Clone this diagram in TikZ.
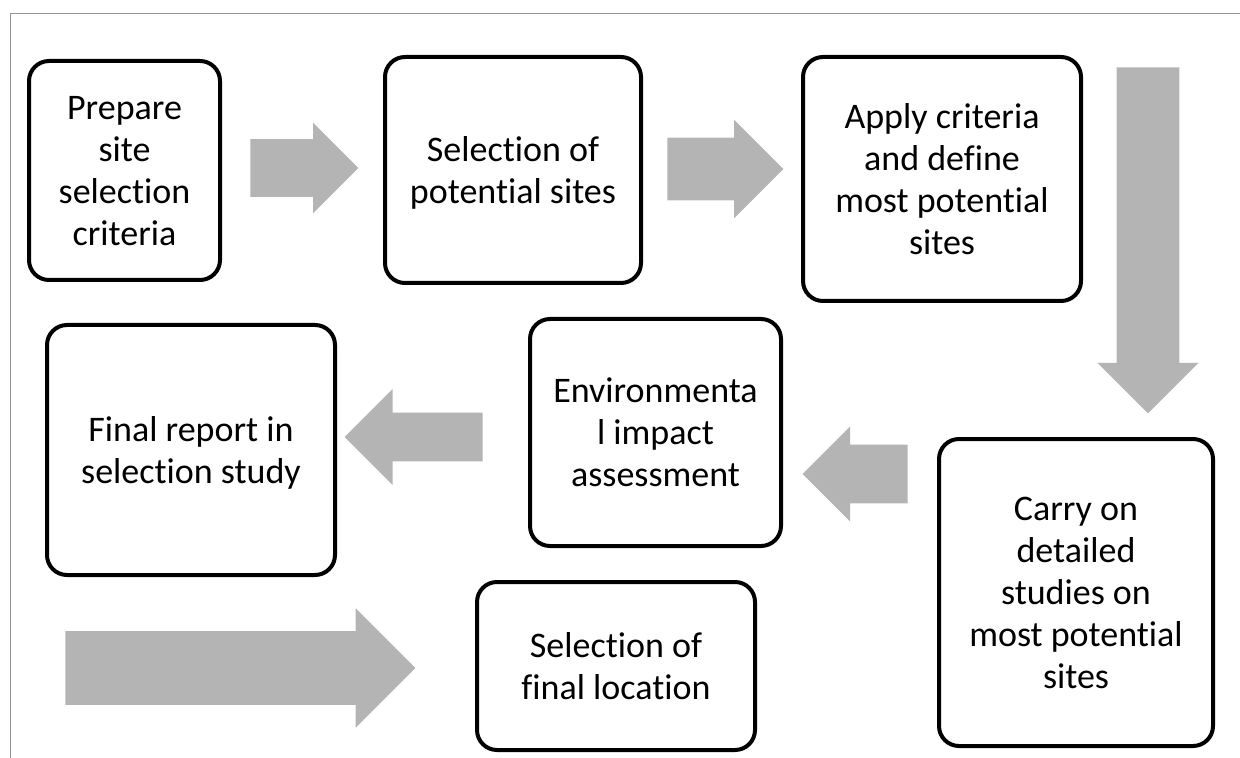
\documentclass[tikz,border=0pt]{standalone}
\usepackage{fontspec}
\setmainfont{Carlito}[Ligatures=NoCommon]
\usetikzlibrary{shapes.arrows}

\definecolor{arrowgray}{RGB}{180,180,180}
\definecolor{framegray}{RGB}{150,150,150}

\tikzset{
    stage/.style={draw=black, line width=2pt, rounded corners=10pt, align=center,
        inner sep=0pt, text depth=0pt, font=\fontsize{18pt}{21pt}\selectfont},
    flow/.style={single arrow, fill=arrowgray, draw=none, anchor=tail,
        single arrow tip angle=90},
}

\begin{document}
\begin{tikzpicture}[x=0.5pt, y=-0.5pt]
    \useasboundingbox (0,0) rectangle (1240,758);
    % frame, top and left side only
    \draw[framegray, line width=0.5pt] (10,758) -- (10,14) -- (1240,14);

    % steps of the study
    \node[stage, minimum width=95.5pt, minimum height=109.5pt] (prep) at (124.5,170.5) {Prepare\\site\\selection\\criteria};
    \node[stage, minimum width=128pt, minimum height=113pt] (potential) at (513,170) {Selection of\\potential sites};
    \node[stage, minimum width=139pt, minimum height=122pt] (apply) at (942,179) {Apply criteria\\and define\\most potential\\sites};
    \node[stage, minimum width=137pt, minimum height=153.5pt] (detail) at (1076,592.5) {Carry on\\detailed\\studies on\\most potential\\sites};
    \node[stage, minimum width=125.5pt, minimum height=113.5pt] (eia) at (655.5,432.5) {Environmenta\\l impact\\assessment};
    \node[stage, minimum width=144pt, minimum height=125pt] (report) at (191,450) {Final report in\\selection study};
    \node[stage, minimum width=139pt, minimum height=84pt] (location) at (616,666) {Selection of\\final location};

    % block arrows, placed by their tail (inner sep gives half the shaft)
    \node[flow, inner sep=14.25pt, minimum height=54pt, single arrow head extend=8.25pt] (a1) at (250,168) {};
    \node[flow, inner sep=15.5pt, minimum height=58pt, single arrow head extend=9pt] (a2) at (667,169) {};
    \node[flow, inner sep=15.5pt, minimum height=173pt, single arrow head extend=9.5pt, shape border rotate=270] (a3) at (1148,67) {};
    \node[flow, inner sep=14.5pt, minimum height=52.5pt, single arrow head extend=9pt, shape border rotate=180] (a4) at (908,474) {};
    \node[flow, inner sep=12pt, minimum height=69pt, single arrow head extend=11.75pt, shape border rotate=180] (a5) at (483,437) {};
    \node[flow, inner sep=18.25pt, minimum height=175pt, single arrow head extend=11.5pt] (a6) at (65,668) {};
\end{tikzpicture}
\end{document}
